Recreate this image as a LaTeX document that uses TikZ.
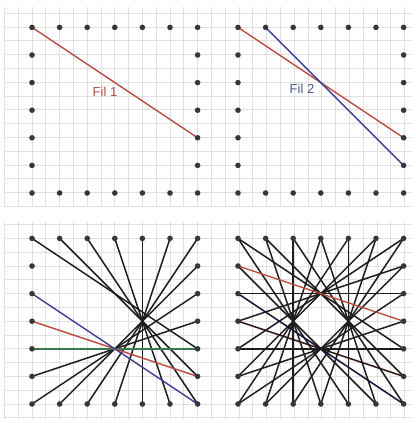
\documentclass[tikz,border=0pt]{standalone}
\usepackage{fontspec}
\setmainfont{Liberation Sans}
\definecolor{gridc}{RGB}{224,224,224}
\definecolor{dotc}{RGB}{55,55,55}
\definecolor{linec}{RGB}{30,30,30}
\definecolor{redc}{RGB}{185,75,65}
\definecolor{bluec}{RGB}{60,60,150}
\definecolor{greenc}{RGB}{60,120,80}
\definecolor{filred}{RGB}{175,80,70}
\definecolor{filblue}{RGB}{75,85,140}
\tikzset{
  gridline/.style={draw=gridc, line width=0.8pt},
  blk/.style={draw=linec, line width=1.5pt},
  redline/.style={draw=redc, line width=1.4pt},
  blueline/.style={draw=bluec, line width=1.4pt},
  greenline/.style={draw=greenc, line width=1.4pt},
  label/.style={font=\fontsize{13}{15}\selectfont, inner sep=1pt}
}
\begin{document}
\begin{tikzpicture}[x=1pt,y=-1pt]
\useasboundingbox (0,0) rectangle (415,423);
\fill[white] (0,0) rectangle (415,423);
% grid paper
\foreach \k in {-2,...,27} {
  \draw[gridline] ({32+13.8*\k},7) -- ({32+13.8*\k},207);
  \draw[gridline] ({32+13.8*\k},222) -- ({32+13.8*\k},419);
}
\foreach \k in {-1,...,13} {
  \draw[gridline] (4,{27+13.8*\k}) -- (412,{27+13.8*\k});
  \draw[gridline] (4,{404-13.8*\k}) -- (412,{404-13.8*\k});
}
% perimeter points of the four panels
\foreach \p/\ox/\oy in {TL/32/193, TR/238/193, BL/32/404, BR/238/404} {
  \foreach \k in {0,...,23} {
    \pgfmathtruncatemacro\ii{ifthenelse(\k<7,\k,ifthenelse(\k<13,6,ifthenelse(\k<19,18-\k,0)))}
    \pgfmathtruncatemacro\jj{ifthenelse(\k<7,6,ifthenelse(\k<13,12-\k,ifthenelse(\k<19,0,\k-18)))}
    \coordinate (\p-\k) at ({\ox+27.6*\ii},{\oy-27.6*\jj});
  }
}
% panel 1
\draw[redline] (TL-0) -- (TL-10);
\node[label, text=filred] (fil1) at (105,92) {Fil 1};
% panel 2
\draw[redline] (TR-0) -- (TR-10);
\draw[blueline] (TR-1) -- (TR-11);
\node[label, text=filblue] (fil2) at (302,89) {Fil 2};
% panel 3
\foreach \k in {0,...,9} {
  \pgfmathtruncatemacro\m{mod(\k+10,24)}
  \draw[blk] (BL-\k) -- (BL-\m);
}
\draw[greenline] (BL-10) -- (BL-20);
\draw[redline] (BL-11) -- (BL-21);
\draw[blueline] (BL-12) -- (BL-22);
% panel 4
\foreach \k in {0,...,10,13,14,...,22} {
  \pgfmathtruncatemacro\m{mod(\k+10,24)}
  \draw[blk] (BR-\k) -- (BR-\m);
}
\draw[blk, draw=black!75!redc] (BR-11) -- (BR-21);
\draw[blk, draw=black!65!bluec] (BR-12) -- (BR-22);
\draw[redline] (BR-23) -- (BR-9);
% dots
\foreach \p in {TL,TR,BL,BR} {
  \foreach \k in {0,...,23} {
    \fill[dotc] (\p-\k) circle (2.8);
  }
}
\end{tikzpicture}
\end{document}
